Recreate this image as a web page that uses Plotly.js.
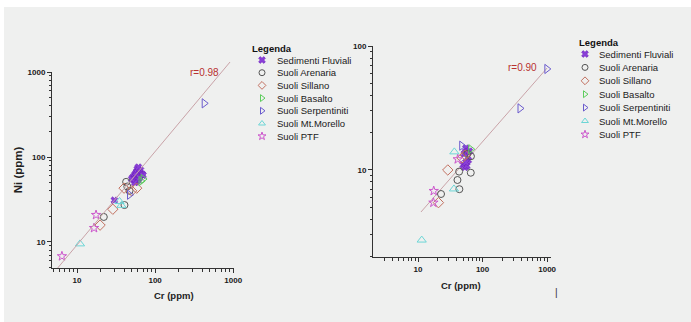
<!DOCTYPE html>
<html>
<head>
<meta charset="utf-8">
<script src="https://cdn.plot.ly/plotly-3.0.1.min.js"></script>
<style>
  html, body { margin: 0; padding: 0; background: #ffffff; }
  #bg { position: absolute; left: 4px; top: 7px; width: 687px; height: 315px; background: #eff0ef; }
  #chart { position: absolute; left: 0; top: 0; width: 691px; height: 322px; }
</style>
</head>
<body>
<div id="bg"></div>
<div id="chart"></div>
<script>
// ---------------- DATA ----------------
const seriesNames = ["Sedimenti Fluviali", "Suoli Arenaria", "Suoli Sillano", "Suoli Basalto",
                     "Suoli Serpentiniti", "Suoli Mt.Morello", "Suoli PTF"];

// Left panel: Ni vs Cr (ppm)
const leftFluvialiCr  = [30, 52, 55, 58, 60, 62, 57, 54, 63, 65, 59, 56, 61, 66, 53, 58, 64, 60, 57, 62, 68, 55, 59, 63, 70, 50, 61];
const leftFluvialiNi  = [31, 58, 62, 55, 60, 64, 52, 57, 66, 70, 59, 61, 56, 62, 54, 67, 60, 53, 65, 58, 63, 50, 72, 57, 61, 55, 76];
const leftArenariaCr  = [22, 40.5, 42.5, 44, 47];
const leftArenariaNi  = [19.7, 27.2, 51, 45, 40];
const leftSillanoCr   = [19.7, 28.7, 40, 50, 58];
const leftSillanoNi   = [15.8, 24.3, 43, 40, 43];
const leftBasaltoCr   = [66, 70];
const leftBasaltoNi   = [52, 55];
const leftSerpCr      = [47, 425];
const leftSerpNi      = [36, 428];
const leftMorelloCr   = [10.9, 35, 37];
const leftMorelloNi   = [9.5, 30, 27];
const leftPtfCr       = [6.4, 16.5, 17.5];
const leftPtfNi       = [6.8, 14.6, 20.8];
const leftFitCr       = [5.5, 910];
const leftFitNi       = [4.8, 1310];
const leftR           = "r=0.98";

// Right panel
const rightFluvialiCr = [55, 58, 52, 50, 53, 57, 60, 55, 62];
const rightFluvialiY  = [15, 14, 13.5, 11, 10.5, 10.8, 12, 11.5, 14.2];
const rightArenariaCr = [22.7, 40.8, 43.7, 43.3, 65.6, 66, 58];
const rightArenariaY  = [6.4, 8.3, 7.0, 9.7, 9.5, 12.9, 13.5];
const rightSillanoCr  = [20.7, 28.9, 53.5, 48];
const rightSillanoY   = [5.45, 10, 13.2, 12.5];
const rightBasaltoCr  = [65.6];
const rightBasaltoY   = [14.7];
const rightSerpCr     = [47.5, 380, 990];
const rightSerpY      = [15.7, 31.4, 65.3];
const rightMorelloCr  = [11.4, 36, 36.5];
const rightMorelloY   = [2.72, 7.03, 14.0];
const rightPtfCr      = [17.3, 17.5, 41.2];
const rightPtfY       = [5.45, 6.77, 12.2];
const rightFitCr      = [11.1, 1000];
const rightFitY       = [4.58, 66.5];
const rightR          = "r=0.90";

const leftXTicks  = [10, 100, 1000];
const leftYTicks  = [10, 100, 1000];
const rightXTicks = [10, 100, 1000];
const rightYTicks = [10, 100];
const xTitle = "Cr (ppm)";
const yTitle = "Ni (ppm)";
const legendTitle = "Legenda";

// ---------------- STYLE ----------------
const W = 691, H = 322;
const px = v => v / W;
const py = v => (H - v) / H;
const FONT = "Liberation Sans, Arial, sans-serif";
const styles = [
  {symbol: "x", color: "#8a3fd8", size: 6, lw: 0.6, lc: "#6a1fb8"},
  {symbol: "circle-open", color: "#555555", size: 7, lw: 1},
  {symbol: "diamond-open", color: "#c27060", size: 8, lw: 1},
  {symbol: "triangle-right-open", color: "#5ccc5c", size: 8, lw: 1},
  {symbol: "triangle-right-open", color: "#6a5acd", size: 8, lw: 1},
  {symbol: "triangle-up-open", color: "#6cd6d6", size: 8, lw: 1},
  {symbol: "star-open", color: "#cc55cc", size: 7, lw: 1}
];

function minorVals(lo, hi) {
  const out = [];
  for (let d = 1; d <= 1000; d *= 10) {
    for (let k = 2; k <= 9; k++) { const v = k * d; if (v >= lo && v <= hi) out.push(v); }
  }
  return out;
}

const leftSets = [[leftFluvialiCr, leftFluvialiNi], [leftArenariaCr, leftArenariaNi], [leftSillanoCr, leftSillanoNi],
                  [leftBasaltoCr, leftBasaltoNi], [leftSerpCr, leftSerpNi], [leftMorelloCr, leftMorelloNi], [leftPtfCr, leftPtfNi]];
const rightSets = [[rightFluvialiCr, rightFluvialiY], [rightArenariaCr, rightArenariaY], [rightSillanoCr, rightSillanoY],
                   [rightBasaltoCr, rightBasaltoY], [rightSerpCr, rightSerpY], [rightMorelloCr, rightMorelloY], [rightPtfCr, rightPtfY]];

const traces = [];
traces.push({x: leftFitCr, y: leftFitNi, xaxis: "x3", yaxis: "y3", mode: "lines",
             line: {color: "#c9a3a8", width: 1}, showlegend: false, hoverinfo: "skip"});
traces.push({x: rightFitCr, y: rightFitY, xaxis: "x2", yaxis: "y2", mode: "lines",
             line: {color: "#c9a3a8", width: 1}, showlegend: false, hoverinfo: "skip"});

function mk(set, i, xa, ya) {
  const s = styles[i];
  return {x: set[0], y: set[1], xaxis: xa, yaxis: ya, mode: "markers", type: "scatter",
          name: seriesNames[i], showlegend: false,
          marker: {symbol: s.symbol, size: s.size, color: s.color,
                   line: {color: s.lc || s.color, width: s.lw}}};
}
leftSets.forEach((s, i) => traces.push(mk(s, i, "x", "y")));
rightSets.forEach((s, i) => traces.push(mk(s, i, "x2", "y2")));

// Compact legends (drawn on a hidden pixel-space axis pair)
const annotations = [];
const legends = [
  {titleX: 250, titleY: 48, symX: 262, textX: 275, top: 60, step: 12.7},
  {titleX: 577, titleY: 42, symX: 585, textX: 597, top: 54, step: 13.4}
];
legends.forEach(L => {
  annotations.push({text: legendTitle, xref: "x5", yref: "y5", x: L.titleX, y: L.titleY,
                    xanchor: "left", yanchor: "middle", showarrow: false,
                    font: {family: FONT, size: 9.5, color: "#111", weight: "bold"}});
  seriesNames.forEach((name, i) => {
    const s = styles[i];
    const yy = L.top + i * L.step;
    traces.push({x: [L.symX], y: [yy], xaxis: "x5", yaxis: "y5", mode: "markers",
                 name: name, showlegend: false, hoverinfo: "skip", cliponaxis: false,
                 marker: {symbol: s.symbol, size: 6, color: s.color,
                          line: {color: s.lc || s.color, width: s.lw}}});
    annotations.push({text: name, xref: "x5", yref: "y5", x: L.textX, y: yy,
                      xanchor: "left", yanchor: "middle", showarrow: false,
                      font: {family: FONT, size: 9.5, color: "#1a1a1a"}});
  });
});

const tickFont = {family: FONT, size: 8, color: "#1a1a1a", weight: "bold"};
function axis(dom, range, anchor, ticks, lo, hi) {
  return {
    domain: dom, range: range, type: "log", anchor: anchor,
    showgrid: false, zeroline: false, showline: true, linecolor: "#333", linewidth: 1,
    ticks: "outside", ticklen: 4, tickcolor: "#333", tickwidth: 1,
    tickmode: "array", tickvals: ticks, ticktext: ticks.map(String),
    tickfont: tickFont, automargin: false,
    minor: {tickmode: "array", tickvals: minorVals(lo, hi), ticks: "outside", ticklen: 2.5, tickcolor: "#333", showgrid: false}
  };
}

const yax = axis([py(268), py(72)], [0.694, 3.0], "x", leftYTicks, 5, 1000);
yax.title = {text: yTitle, font: {family: FONT, size: 11.5, color: "#222", weight: "bold"}, standoff: 2};

annotations.push(
  {text: xTitle, xref: "paper", yref: "paper", x: px(152), y: py(295), yanchor: "middle", showarrow: false,
   font: {family: FONT, size: 9.5, color: "#222", weight: "bold"}},
  {text: xTitle, xref: "paper", yref: "paper", x: px(483), y: py(285), yanchor: "middle", showarrow: false,
   font: {family: FONT, size: 9.5, color: "#222", weight: "bold"}},
  {text: leftR, xref: "x", yref: "y", x: 2.628, y: 3.0, showarrow: false,
   font: {family: FONT, size: 10, color: "#b8312f"}},
  {text: rightR, xref: "x2", yref: "y2", x: 2.612, y: 1.83, showarrow: false,
   font: {family: FONT, size: 10, color: "#b8312f"}},
  {text: "|", xref: "paper", yref: "paper", x: px(560), y: py(292), yanchor: "middle", showarrow: false,
   font: {family: FONT, size: 10, color: "#333"}}
);

const layout = {
  width: W, height: H,
  margin: {l: 0, r: 0, t: 0, b: 0},
  paper_bgcolor: "rgba(0,0,0,0)", plot_bgcolor: "rgba(0,0,0,0)",
  font: {family: FONT},
  showlegend: false,
  xaxis:  axis([px(52), px(234)], [0.679, 3.01], "y", leftXTicks, 5, 1000),
  yaxis:  yax,
  xaxis2: axis([px(373), px(551)], [0.302, 3.06], "y2", rightXTicks, 2, 1000),
  yaxis2: axis([py(257), py(46)], [0.298, 2.0], "x2", rightYTicks, 2, 100),
  xaxis3: {domain: [px(52), px(234)], range: [0.679, 3.01], type: "log", anchor: "y3", visible: false},
  yaxis3: {domain: [py(268), py(60)], range: [0.694, 3.0 + 12 / 85], type: "log", anchor: "x3", visible: false},
  xaxis5: {domain: [0, 1], range: [0, W], anchor: "y5", visible: false, fixedrange: true},
  yaxis5: {domain: [0, 1], range: [H, 0], anchor: "x5", visible: false, fixedrange: true},
  annotations: annotations
};

Plotly.newPlot("chart", traces, layout, {displayModeBar: false, staticPlot: true});
</script>
</body>
</html>
